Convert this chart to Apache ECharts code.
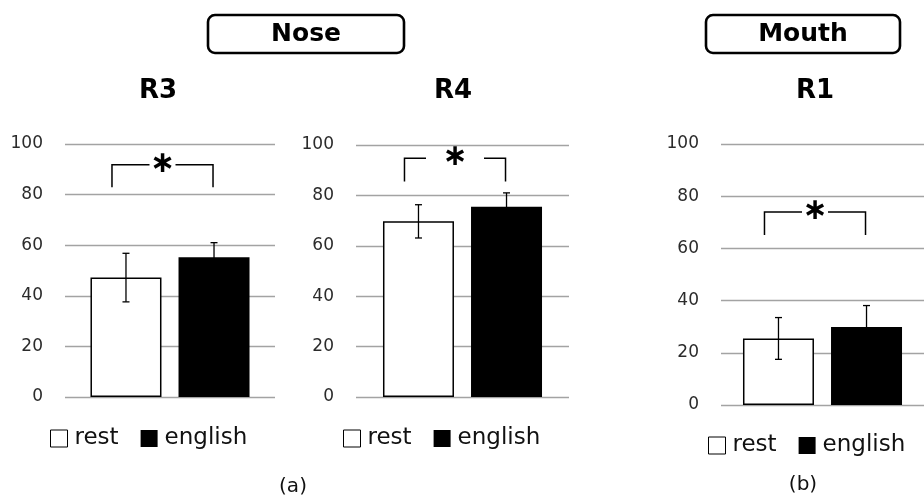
<!DOCTYPE html>
<html>
<head>
<meta charset="utf-8">
<script src="https://cdn.jsdelivr.net/npm/echarts@6/dist/echarts.min.js"></script>
<style>
  html, body { margin: 0; padding: 0; background: #fff; }
  #chart { width: 924px; height: 496px; }
</style>
</head>
<body>
<div id="chart"></div>
<script>
// ---- data ----
const regions = ['R3', 'R4', 'R1'];
const seriesNames = ['rest', 'english'];
const restMean = [47.2, 69.7, 25.5];
const restErr = [9.6, 6.6, 8.0];
const englishMean = [55.2, 75.5, 29.9];
const englishErr = [5.8, 5.5, 8.2];
// significance bracket: top bar level and foot level (axis units)
const bracketTop = [91.8, 94.7, 73.9];
const bracketFoot = [82.9, 85.5, 65.1];
const sigMark = ['∗', '∗', '∗'];
const yMin = 0, yMax = 100, yStep = 20;
const groupNames = ['Nose', 'Mouth'];
const panelTags = ['(a)', '(b)'];

// ---- layout ----
const FONT = '"DejaVu Sans", sans-serif';
const grids = [
  { left: 65, top: 144, width: 210, height: 253 },
  { left: 356, top: 145, width: 213, height: 252 },
  { left: 721, top: 144, width: 212, height: 261 }
];
const titlePos = [[158, 91], [453, 91], [815, 91]];
const legendPos = [[50, 427], [343, 427], [708, 434]];
const bracketGap = [13, 29, 13];   // half-width of the opening around the star
const BAR_W = 71, BAR_GAP = 0.24;
const barOffset = (BAR_W + BAR_W * BAR_GAP) / 2;

const option = {
  animation: false,
  backgroundColor: '#fff',
  grid: grids.map(g => Object.assign({ containLabel: false }, g)),
  xAxis: grids.map((g, i) => ({
    gridIndex: i, type: 'category', data: [regions[i]], show: false
  })),
  yAxis: grids.map((g, i) => ({
    gridIndex: i, type: 'value', min: yMin, max: yMax, interval: yStep,
    axisLine: { show: false }, axisTick: { show: false },
    axisLabel: { fontSize: 17, color: '#2b2b2b', margin: 22, fontFamily: FONT },
    splitLine: { lineStyle: { color: '#a3a3a3', width: 1.3 } }
  })),
  legend: grids.map((g, i) => ({
    left: legendPos[i][0], top: legendPos[i][1], padding: 0,
    itemWidth: 17, itemHeight: 17, itemGap: 22,
    selectedMode: false,
    textStyle: { fontSize: 23, color: '#111', fontFamily: FONT, padding: [0, 0, 0, 2] },
    data: [
      { name: seriesNames[0], icon: 'rect', itemStyle: { color: '#fff', borderColor: '#000', borderWidth: 1 } },
      { name: seriesNames[1], icon: 'rect', itemStyle: { color: '#000', borderWidth: 0 } }
    ]
  })),
  graphic: [],
  series: []
};

regions.forEach((r, i) => {
  option.series.push({
    type: 'bar', name: seriesNames[0], xAxisIndex: i, yAxisIndex: i,
    data: [restMean[i]], barWidth: BAR_W, barGap: (BAR_GAP * 100) + '%',
    itemStyle: { color: '#fff', borderColor: '#000', borderWidth: 1.5 }
  });
  option.series.push({
    type: 'bar', name: seriesNames[1], xAxisIndex: i, yAxisIndex: i,
    data: [englishMean[i]], barWidth: BAR_W, barGap: (BAR_GAP * 100) + '%',
    itemStyle: { color: '#000' }
  });
  // error bars
  option.series.push({
    type: 'custom', xAxisIndex: i, yAxisIndex: i, z: 5, silent: true,
    data: [[0, restMean[i], restErr[i], -1], [0, englishMean[i], englishErr[i], 1]],
    renderItem: function (params, api) {
      const x = api.coord([api.value(0), api.value(1)])[0] + api.value(3) * barOffset;
      const hi = api.coord([api.value(0), api.value(1) + api.value(2)])[1];
      const lo = api.coord([api.value(0), api.value(1) - api.value(2)])[1];
      const cap = 3.5;
      const st = { stroke: '#000', lineWidth: 1.3 };
      return {
        type: 'group',
        children: [
          { type: 'line', shape: { x1: x, y1: hi, x2: x, y2: lo }, style: st },
          { type: 'line', shape: { x1: x - cap, y1: hi, x2: x + cap, y2: hi }, style: st },
          { type: 'line', shape: { x1: x - cap, y1: lo, x2: x + cap, y2: lo }, style: st }
        ]
      };
    }
  });
  // significance bracket with star
  option.series.push({
    type: 'custom', xAxisIndex: i, yAxisIndex: i, z: 6, silent: true,
    data: [[0, bracketTop[i], bracketFoot[i]]],
    renderItem: function (params, api) {
      const c = api.coord([api.value(0), api.value(1)]);
      const yTop = c[1];
      const yFoot = api.coord([api.value(0), api.value(2)])[1];
      const xl = c[0] - barOffset - 14;
      const xr = c[0] + barOffset - 1;
      const xm = (xl + xr) / 2;
      const gap = bracketGap[i];
      const st = { stroke: '#000', fill: null, lineWidth: 1.5 };
      return {
        type: 'group',
        children: [
          { type: 'polyline', shape: { points: [[xl, yFoot], [xl, yTop], [xm - gap, yTop]] }, style: st },
          { type: 'polyline', shape: { points: [[xm + gap, yTop], [xr, yTop], [xr, yFoot]] }, style: st },
          { type: 'text', x: xm, y: yTop - 1,
            style: { text: sigMark[i], fill: '#000', align: 'center', verticalAlign: 'middle',
                     font: 'bold 30px ' + FONT } }
        ]
      };
    }
  });
  option.graphic.push({
    type: 'text', x: titlePos[i][0], y: titlePos[i][1],
    style: { text: r, fill: '#000', align: 'center', verticalAlign: 'middle',
             font: 'bold 26px ' + FONT }
  });
});

// group boxes above the panels
const boxes = [
  { x: 208, w: 196 },
  { x: 706, w: 194 }
];
groupNames.forEach((n, k) => {
  option.graphic.push({
    type: 'rect', shape: { x: boxes[k].x, y: 15, width: boxes[k].w, height: 38, r: 7 },
    style: { fill: '#fff', stroke: '#000', lineWidth: 2.6 }
  });
  option.graphic.push({
    type: 'text', x: boxes[k].x + boxes[k].w / 2, y: 34,
    style: { text: n, fill: '#000', align: 'center', verticalAlign: 'middle', font: 'bold 25px ' + FONT }
  });
});
const tagPos = [[293, 487], [803, 485]];
panelTags.forEach((t, k) => {
  option.graphic.push({
    type: 'text', x: tagPos[k][0], y: tagPos[k][1],
    style: { text: t, fill: '#111', align: 'center', verticalAlign: 'middle', font: '20px ' + FONT }
  });
});

const chart = echarts.init(document.getElementById('chart'), null, { renderer: 'canvas' });
chart.setOption(option);
</script>
</body>
</html>
